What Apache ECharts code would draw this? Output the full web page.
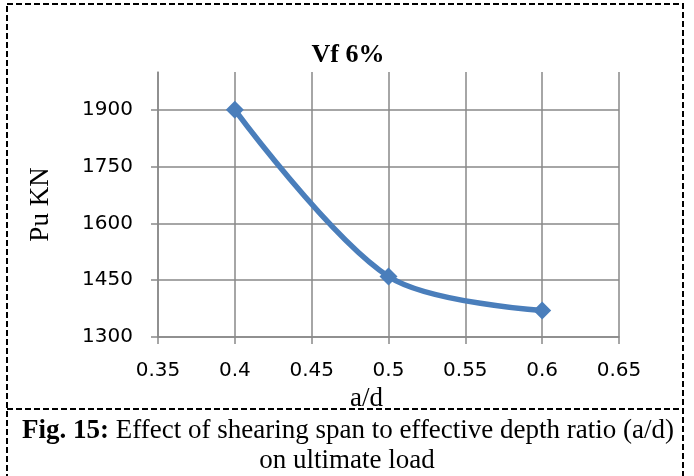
<!DOCTYPE html>
<html>
<head>
<meta charset="utf-8">
<script src="https://cdn.jsdelivr.net/npm/echarts@6/dist/echarts.min.js"></script>
<style>
html,body{margin:0;padding:0;background:#fff;}
#chart{width:694px;height:476px;}
</style>
</head>
<body>
<div id="chart"></div>
<script>
// ---- data ----
var xValues = [0.4, 0.5, 0.6];          // a/d
var puValues = [1900, 1460, 1370];      // Pu (kN)
var xTicks = [0.35, 0.4, 0.45, 0.5, 0.55, 0.6, 0.65];
var yTicks = [1300, 1450, 1600, 1750, 1900];
var yAxisMax = 2000;
var chartTitle = 'Vf 6%';
var xName = 'a/d';
var yName = 'Pu KN';
var captionBold = 'Fig. 15:';
var captionLine1 = ' Effect of shearing span to effective depth ratio (a/d)';
var captionLine2 = 'on ultimate load';

var seriesData = xValues.map(function (x, i) { return [x, puValues[i]]; });

var gridColor = '#898989';
var serif = '"Liberation Serif", "Times New Roman", serif';
var sans = '"DejaVu Sans", sans-serif';

var chart = echarts.init(document.getElementById('chart'), null, {renderer: 'canvas'});
chart.setOption({
  animation: false,
  backgroundColor: '#fff',
  title: {
    text: chartTitle,
    left: 343, top: 37, textAlign: 'center',
    textStyle: {fontFamily: serif, fontWeight: 'bold', fontSize: 26, color: '#000'}
  },
  grid: {left: 158, right: 75, top: 72, bottom: 139, containLabel: false},
  xAxis: {
    type: 'value',
    min: xTicks[0], max: xTicks[xTicks.length - 1], interval: 0.05,
    name: xName, nameLocation: 'middle', nameGap: 47,
    nameTextStyle: {fontFamily: serif, fontSize: 27, color: '#000', padding: [0, 44, 0, 0]},
    axisLine: {show: true, lineStyle: {color: gridColor, width: 1.5}},
    axisTick: {show: true, length: 7, lineStyle: {color: gridColor, width: 1.5}},
    splitLine: {show: true, lineStyle: {color: gridColor, width: 1.5}},
    axisLabel: {
      margin: 24, fontFamily: sans, fontSize: 20, color: '#000',
      formatter: function (v) { return String(+v.toFixed(2)); }
    }
  },
  yAxis: {
    type: 'value',
    min: yTicks[0], max: yAxisMax, interval: 150,
    name: yName, nameLocation: 'middle', nameGap: 104,
    nameTextStyle: {fontFamily: serif, fontSize: 27, color: '#000'},
    axisLine: {show: true, lineStyle: {color: gridColor, width: 1.5}},
    axisTick: {show: true, length: 7, customValues: yTicks, lineStyle: {color: gridColor, width: 1.5}},
    splitLine: {show: true, lineStyle: {color: [gridColor, gridColor, gridColor, gridColor, gridColor, 'rgba(0,0,0,0)'], width: 1.5}},
    axisLabel: {
      margin: 25, fontFamily: sans, fontSize: 20, color: '#000',
      customValues: yTicks,
      formatter: function (v) { return yTicks.indexOf(v) >= 0 ? String(v) : ''; }
    }
  },
  series: [{
    type: 'line',
    data: seriesData,
    smooth: 0.32,
    symbol: 'diamond',
    symbolSize: 18,
    lineStyle: {color: '#4a7ebb', width: 5.5},
    itemStyle: {color: '#4a7ebb'}
  }],
  graphic: [
    {type: 'rect', silent: true, z: 100,
      shape: {x: 7, y: 4, width: 676, height: 480},
      style: {fill: 'none', stroke: '#000', lineWidth: 2, lineDash: [6, 3]}},
    {type: 'line', silent: true, z: 100,
      shape: {x1: 7, y1: 409, x2: 683, y2: 409},
      style: {stroke: '#000', lineWidth: 2, lineDash: [6, 3]}},
    {type: 'text', silent: true, z: 100, x: 348, y: 431,
      style: {
        text: '{b|' + captionBold + '}' + captionLine1,
        align: 'center', verticalAlign: 'middle',
        font: '27px ' + serif, fill: '#000',
        rich: {b: {fontFamily: serif, fontSize: 27, fontWeight: 'bold', fill: '#000'}}
      }},
    {type: 'text', silent: true, z: 100, x: 347, y: 461,
      style: {
        text: captionLine2, align: 'center', verticalAlign: 'middle',
        font: '27px ' + serif, fill: '#000'
      }}
  ]
});
</script>
</body>
</html>
